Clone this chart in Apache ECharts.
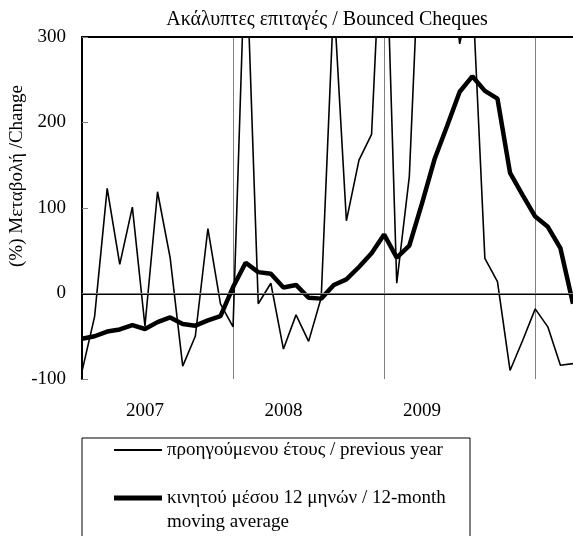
<!DOCTYPE html>
<html>
<head>
<meta charset="utf-8">
<script src="https://cdn.jsdelivr.net/npm/echarts@6/dist/echarts.min.js"></script>
<style>
html,body{margin:0;padding:0;background:#fff;}
#chart{width:573px;height:536px;}
</style>
</head>
<body>
<div id="chart"></div>
<script>
// Monthly categories (Jan 2007 .. Apr 2010)
var categories = [
  '2007-01','2007-02','2007-03','2007-04','2007-05','2007-06','2007-07','2007-08','2007-09','2007-10','2007-11','2007-12',
  '2008-01','2008-02','2008-03','2008-04','2008-05','2008-06','2008-07','2008-08','2008-09','2008-10','2008-11','2008-12',
  '2009-01','2009-02','2009-03','2009-04','2009-05','2009-06','2009-07','2009-08','2009-09','2009-10','2009-11','2009-12',
  '2010-01','2010-02','2010-03','2010-04'
];
// % change on previous year
var prevYear = [
  -91, -27, 123, 34, 101, -38, 119, 42, -85, -50, 76, -12,
  -39, 420, -12, 12, -65, -25, -56, -5, 345, 85, 156, 186,
  500, 12, 137, 480, 450, 420, 292, 360, 41, 14, -90, -55,
  -18, -39, -84, -82
];
// % change of 12-month moving average
var movingAvg = [
  -53, -50, -44.5, -42, -37, -41.5, -33.5, -28, -35.7, -37.6, -31.5, -26.5,
  7.5, 36, 25, 23, 7, 10, -5, -6, 10, 16.5, 31, 47,
  69, 42, 56, 105, 157, 196, 236, 254, 237, 228, 141, 115,
  90, 78, 53, -12
];
var yearLabels = ['2007', '2008', '2009'];
var yTicks = [-100, 0, 100, 200, 300];

var seriesNames = ['προηγούμενου έτους / previous year', 'κινητού μέσου 12 μηνών / 12-month moving average'];
var FONT = "'Liberation Serif', 'Times New Roman', 'DejaVu Serif', serif";
var labelIdx = [5, 16, 27];

var chart = echarts.init(document.getElementById('chart'), null, {renderer: 'canvas'});
var option = {
  animation: false,
  backgroundColor: '#ffffff',
  title: {
    text: 'Ακάλυπτες επιταγές / Bounced Cheques',
    left: 327, top: 10, padding: 0,
    textAlign: 'center',
    textStyle: {fontFamily: FONT, fontSize: 20, fontWeight: 'normal', color: '#000'}
  },
  grid: {left: 82, right: 0, top: 37, bottom: 157, containLabel: false},
  xAxis: [{
    type: 'category',
    data: categories,
    boundaryGap: false,
    axisLine: {show: true, lineStyle: {color: '#000', width: 2}},
    axisTick: {show: false},
    axisLabel: {
      interval: function (i) { return labelIdx.indexOf(i) >= 0; },
      formatter: function (v, i) { var k = labelIdx.indexOf(i); return k >= 0 ? yearLabels[k] : ''; },
      margin: 23,
      fontFamily: FONT, fontSize: 19, color: '#000'
    },
    splitLine: {
      show: true,
      interval: function (i) { return i > 0 && i % 12 === 0; },
      lineStyle: {color: '#808080', width: 1}
    }
  }, {
    type: 'category',
    data: categories,
    position: 'top',
    boundaryGap: false,
    axisLine: {show: true, lineStyle: {color: '#000', width: 2}},
    axisTick: {show: false},
    axisLabel: {show: false},
    splitLine: {show: false}
  }],
  yAxis: {
    type: 'value',
    min: yTicks[0], max: yTicks[yTicks.length - 1], interval: 100,
    axisLine: {show: true, lineStyle: {color: '#000', width: 2}},
    axisTick: {show: true, inside: true, length: 6, lineStyle: {color: '#808080', width: 1}},
    axisLabel: {margin: 16, fontFamily: FONT, fontSize: 19, color: '#000'},
    splitLine: {show: false}
  },
  legend: [{
    data: [seriesNames[0]],
    left: 114, top: 438, padding: 0,
    icon: 'rect',
    itemWidth: 48, itemHeight: 2,
    textStyle: {fontFamily: FONT, fontSize: 19, color: '#000', lineHeight: 24}
  }, {
    data: [seriesNames[1]],
    left: 114, top: 462, padding: 0,
    icon: 'rect',
    itemWidth: 48, itemHeight: 5,
    formatter: function () { return '\nκινητού μέσου 12 μηνών / 12-month\nmoving average'; },
    textStyle: {fontFamily: FONT, fontSize: 19, color: '#000', lineHeight: 24}
  }],
  graphic: [{
    type: 'rect', z: -1,
    shape: {x: 82, y: 438, width: 388, height: 120},
    style: {fill: '#fff', stroke: '#000', lineWidth: 1}
  }, {
    type: 'text',
    x: 17, y: 176,
    rotation: Math.PI / 2,
    style: {
      text: '(%) Μεταβολή /Change',
      font: '19px ' + FONT,
      fill: '#000',
      align: 'center', verticalAlign: 'middle'
    }
  }],
  series: [{
    name: seriesNames[0],
    type: 'line',
    data: prevYear,
    symbol: 'none',
    lineStyle: {color: '#000', width: 1.6},
    itemStyle: {color: '#000'},
    z: 3,
    markLine: {
      silent: true, symbol: 'none', label: {show: false},
      lineStyle: {color: '#808080', width: 1, type: 'solid'},
      data: [{yAxis: 0}]
    }
  }, {
    name: seriesNames[1],
    type: 'line',
    data: movingAvg,
    symbol: 'none',
    lineStyle: {color: '#000', width: 4.5},
    itemStyle: {color: '#000'},
    z: 4
  }]
};
chart.setOption(option);
</script>
</body>
</html>
